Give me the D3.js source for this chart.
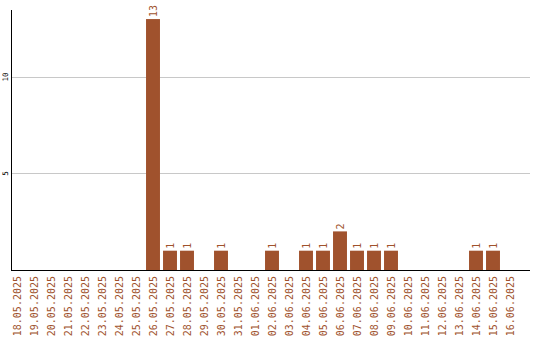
<!DOCTYPE html>
<html>
<head>
<meta charset="utf-8">
<script src="https://cdn.jsdelivr.net/npm/d3@7"></script>
<style>
    body { margin: 0; background: #fff; }
    svg { display: block; }
    .lbl { font-family: "DejaVu Sans Mono", monospace; fill: #a0522d; }
</style>
</head>
<body>
<svg id="chart" width="540" height="340"></svg>
<script>
// Data
const dates = ['18.05.2025', '19.05.2025', '20.05.2025', '21.05.2025', '22.05.2025', '23.05.2025',
    '24.05.2025', '25.05.2025', '26.05.2025', '27.05.2025', '28.05.2025', '29.05.2025', '30.05.2025',
    '31.05.2025', '01.06.2025', '02.06.2025', '03.06.2025', '04.06.2025', '05.06.2025', '06.06.2025',
    '07.06.2025', '08.06.2025', '09.06.2025', '10.06.2025', '11.06.2025', '12.06.2025', '13.06.2025',
    '14.06.2025', '15.06.2025', '16.06.2025']
const counts = [0, 0, 0, 0, 0, 0, 0, 0, 13, 1, 1, 0, 1, 0, 0, 1, 0, 1, 1, 2, 1, 1, 1, 0, 0, 0, 0, 1, 1, 0]
const yTicks = [5, 10]

const BAR_COLOR = '#a0522d'
const svg = d3.select('#chart')
const plot = { left: 11, right: 530, top: 10, bottom: 270 }

const x = d3.scaleBand().domain(dates).range([8.5, 518.5]).paddingInner(0.18).paddingOuter(0.09)
const y = d3.scaleLinear().domain([0, 13.47]).range([plot.bottom, plot.top])

// Grid lines
svg.append('g').selectAll('line').data(yTicks).join('line')
    .attr('x1', plot.left).attr('x2', plot.right)
    .attr('y1', d => Math.round(y(d)) + 0.5).attr('y2', d => Math.round(y(d)) + 0.5)
    .attr('stroke', '#c8c8c8')

// Y tick labels, rotated
svg.append('g').selectAll('text').data(yTicks).join('text')
    .attr('transform', d => `translate(8,${y(d)}) rotate(-90)`)
    .attr('text-anchor', 'middle')
    .style('font-family', '"DejaVu Sans Mono", monospace')
    .style('font-size', '7.5px')
    .attr('fill', '#000')
    .text(d => d)

// Bars
const data = dates.map((d, i) => ({ date: d, count: counts[i] }))
svg.append('g').selectAll('rect').data(data.filter(d => d.count > 0)).join('rect')
    .attr('x', d => x(d.date))
    .attr('y', d => y(d.count))
    .attr('width', x.bandwidth())
    .attr('height', d => plot.bottom - y(d.count))
    .attr('fill', BAR_COLOR)

// Value labels above bars
svg.append('g').selectAll('text').data(data.filter(d => d.count > 0)).join('text')
    .attr('class', 'lbl')
    .attr('transform', d => `translate(${x(d.date) + x.bandwidth() / 2 + 3.5},${y(d.count) - 2}) rotate(-90)`)
    .style('font-size', '10px')
    .text(d => d.count)

// Axes lines
svg.append('line').attr('x1', plot.left + 0.5).attr('x2', plot.left + 0.5).attr('y1', plot.top).attr('y2', plot.bottom + 1)
    .attr('stroke', '#000')
svg.append('line').attr('x1', plot.left).attr('x2', plot.right).attr('y1', plot.bottom + 0.5).attr('y2', plot.bottom + 0.5)
    .attr('stroke', '#000')

// Date labels, rotated
svg.append('g').selectAll('text').data(dates).join('text')
    .attr('class', 'lbl')
    .attr('transform', d => `translate(${x(d) + x.bandwidth() / 2 + 3.5},276) rotate(-90)`)
    .attr('text-anchor', 'end')
    .style('font-size', '10px')
    .text(d => d)
</script>
</body>
</html>
